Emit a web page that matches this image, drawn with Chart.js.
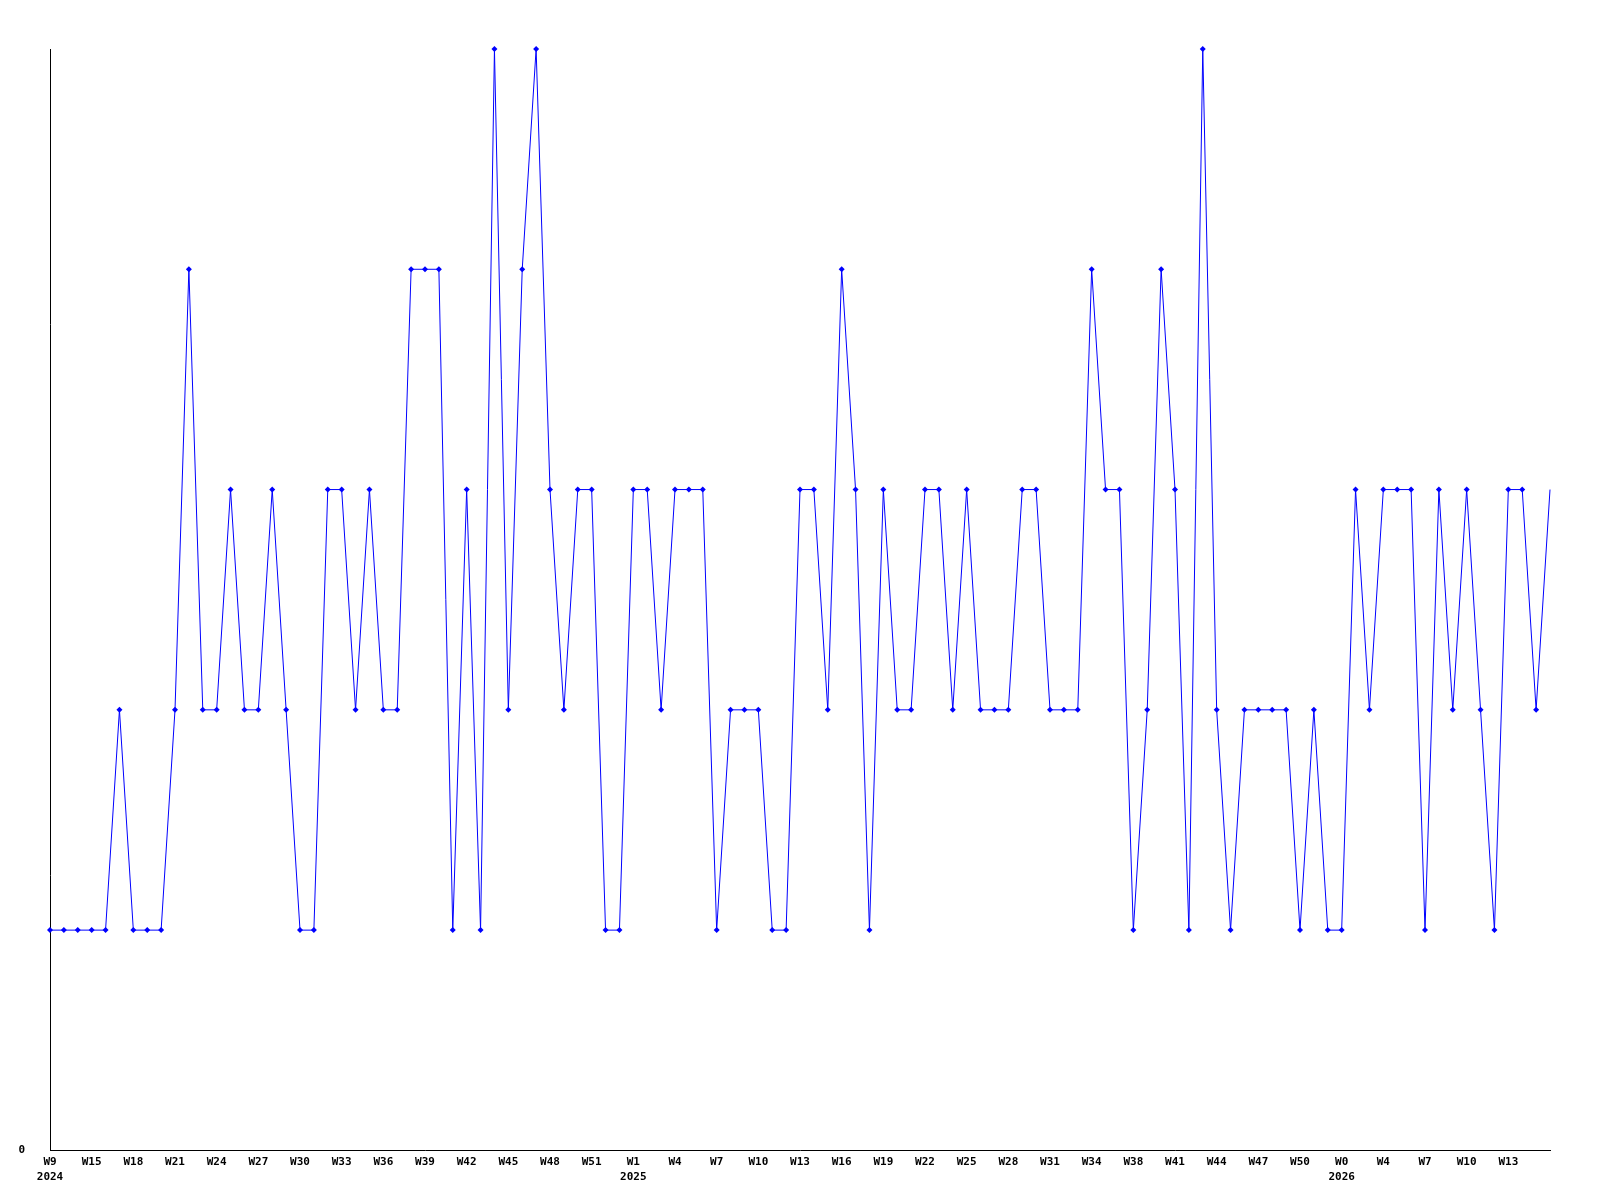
<!DOCTYPE html>
<html>
<head>
<meta charset="utf-8">
<script src="https://cdn.jsdelivr.net/npm/chart.js@4/dist/chart.umd.min.js"></script>
<style>
  html, body { margin: 0; padding: 0; background: #fff; }
  #wrap { width: 1600px; height: 1200px; }
</style>
</head>
<body>
<div id="wrap"><canvas id="chart" width="1600" height="1200"></canvas></div>
<script>
// week tick labels, one per 3 points (second line is the year when it starts)
const tickLabels = [
    ['W9', '2024'], 'W15', 'W18', 'W21', 'W24', 'W27', 'W30', 'W33', 'W36', 'W39', 'W42', 'W45', 'W48', 'W51',
    ['W1', '2025'], 'W4', 'W7', 'W10', 'W13', 'W16', 'W19', 'W22', 'W25', 'W28', 'W31', 'W34', 'W38', 'W41', 'W44', 'W47', 'W50',
    ['W0', '2026'], 'W4', 'W7', 'W10', 'W13'
];
const tickEvery = 3;

const values = [
    1, 1, 1, 1, 1, 2, 1, 1, 1, 2,
    4, 2, 2, 3, 2, 2, 3, 2, 1, 1,
    3, 3, 2, 3, 2, 2, 4, 4, 4, 1,
    3, 1, 5, 2, 4, 5, 3, 2, 3, 3,
    1, 1, 3, 3, 2, 3, 3, 3, 1, 2,
    2, 2, 1, 1, 3, 3, 2, 4, 3, 1,
    3, 2, 2, 3, 3, 2, 3, 2, 2, 2,
    3, 3, 2, 2, 2, 4, 3, 3, 1, 2,
    4, 3, 1, 5, 2, 1, 2, 2, 2, 2,
    1, 2, 1, 1, 3, 2, 3, 3, 3, 1,
    3, 2, 3, 2, 1, 3, 3, 2, 3
];

const labels = values.map((v, i) => (i % tickEvery === 0 && tickLabels[i / tickEvery]) ? tickLabels[i / tickEvery] : '');

const font = { family: "'DejaVu Sans Mono', monospace", size: 11, weight: 'bold', lineHeight: 1.3 };

new Chart(document.getElementById('chart'), {
    type: 'line',
    data: {
        labels: labels,
        datasets: [{
            data: values,
            borderColor: '#0000ff',
            backgroundColor: '#0000ff',
            borderWidth: 1,
            tension: 0,
            fill: false,
            clip: false,
            pointStyle: 'rectRot',
            pointRadius: ctx => ctx.dataIndex === values.length - 1 ? 0 : 3,
            pointBorderWidth: 0
        }]
    },
    options: {
        responsive: false,
        animation: false,
        layout: { padding: { left: 0, right: 50, top: 49, bottom: 11 } },
        plugins: { legend: { display: false }, tooltip: { enabled: false } },
        scales: {
            x: {
                type: 'category',
                offset: false,
                grid: { display: false, drawTicks: false },
                border: { display: true, color: '#000', width: 1 },
                ticks: { color: '#000', font: font, autoSkip: false, maxRotation: 0, minRotation: 0, padding: 5 }
            },
            y: {
                min: 0,
                max: 5,
                grid: { display: false, drawTicks: false },
                border: { display: true, color: '#000', width: 1 },
                afterFit: scale => { scale.width = 50; },
                ticks: {
                    color: '#000', font: font, stepSize: 1, padding: 25,
                    callback: v => v === 0 ? '0' : ''
                }
            }
        }
    }
});
</script>
</body>
</html>
